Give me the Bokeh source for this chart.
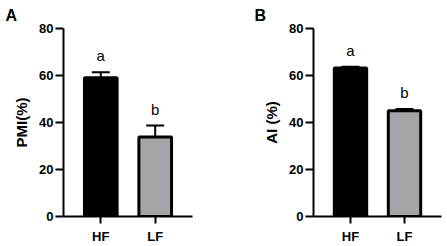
from bokeh.plotting import figure
from bokeh.layouts import row
from bokeh.models import (ColumnDataSource, FactorRange, Range1d, FixedTicker,
                          Whisker, TeeHead)
from bokeh.core.properties import value
from bokeh.embed import file_html
from bokeh.resources import INLINE

# ---- data ----
categories = ["HF", "LF"]
pmi_mean = [59.0, 33.8]
pmi_err = [2.4, 4.9]
pmi_letters = ["a", "b"]
ai_mean = [63.2, 45.0]
ai_err = [0.5, 0.7]
ai_letters = ["a", "b"]
bar_colors = ["#000000", "#a5a5a9"]
y_ticks = [0, 20, 40, 60, 80]

FONT = "Liberation Sans"


def make_panel(means, errs, letters, ylabel, panel_letter, width, left, right, letter_x):
    p = figure(width=width, height=246, output_backend="svg", toolbar_location=None,
               x_range=FactorRange(factors=categories, range_padding=0.185),
               y_range=Range1d(0, 80),
               min_border_left=left, min_border_right=right,
               min_border_top=28, min_border_bottom=30)
    p.outline_line_color = None
    p.xgrid.grid_line_color = None
    p.ygrid.grid_line_color = None
    p.background_fill_color = "white"
    p.border_fill_color = "white"

    p.title.text = panel_letter
    p.title.align = "left"
    p.title.offset = letter_x - left
    p.title.standoff = 9
    p.title.text_font = FONT
    p.title.text_font_style = "bold"
    p.title.text_font_size = "16px"
    p.title.text_color = "black"

    tops = [m + e for m, e in zip(means, errs)]
    src = ColumnDataSource(dict(x=categories, top=means, upper=tops,
                                color=bar_colors, letter=letters))
    p.vbar(x="x", top="top", width=0.6, source=src, fill_color="color",
           line_color="black", line_width=3)
    p.add_layout(Whisker(source=src, base="x", lower="top", upper="upper",
                         line_color="black", line_width=2,
                         lower_head=None,
                         upper_head=TeeHead(size=18, line_color="black", line_width=2)))
    p.text(x="x", y="upper", text="letter", source=src, text_align="center",
           text_baseline="bottom", y_offset=-8, text_font=value(FONT),
           text_font_size="15px", text_color="black")

    for ax in (p.xaxis[0], p.yaxis[0]):
        ax.axis_line_width = 2
        ax.axis_line_color = "black"
        ax.major_tick_line_width = 2
        ax.major_tick_line_color = "black"
        ax.major_tick_in = 0
        ax.minor_tick_line_color = None
        ax.major_label_text_font = FONT
        ax.major_label_text_font_style = "bold"
        ax.major_label_text_font_size = "13px"
        ax.major_label_text_color = "black"
    p.yaxis.ticker = FixedTicker(ticks=y_ticks)
    p.yaxis.major_tick_out = 8
    p.yaxis.major_label_standoff = 2
    p.xaxis.major_tick_out = 7
    p.xaxis.major_label_standoff = 5
    p.yaxis.axis_label = ylabel
    p.yaxis.axis_label_text_font = FONT
    p.yaxis.axis_label_text_font_style = "bold"
    p.yaxis.axis_label_text_font_size = "15px"
    p.yaxis.axis_label_text_color = "black"
    p.yaxis.axis_label_standoff = 6
    return p


pA = make_panel(pmi_mean, pmi_err, pmi_letters, "PMI(%)", "A", 224, 63, 32, 5)
pB = make_panel(ai_mean, ai_err, ai_letters, "AI (%)", "B", 223, 89, 6, 30)

layout = row(pA, pB)
open("out.html", "w").write(file_html(layout, INLINE))
